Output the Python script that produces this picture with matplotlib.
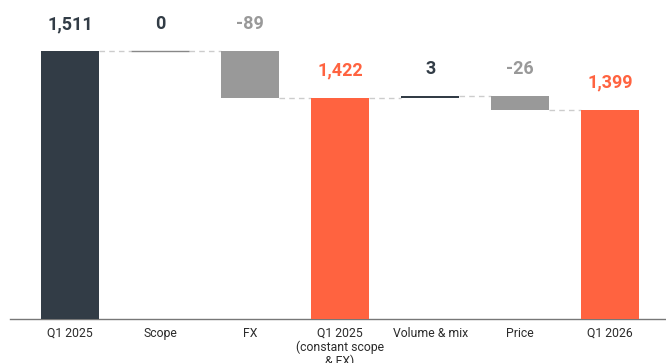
import matplotlib
matplotlib.use("Agg")
import matplotlib.pyplot as plt

# Waterfall bridge: Q1 2025 -> Q1 2026
categories = ["Q1 2025", "Scope", "FX", "Q1 2025\n(constant scope\n& FX)",
              "Volume & mix", "Price", "Q1 2026"]
values = [1511, 0, -89, 1422, 3, -26, 1399]
kinds = ["start", "delta", "delta", "total", "delta", "delta", "total"]
labels = ["1,511", "0", "-89", "1,422", "3", "-26", "1,399"]

DARK = "#323c46"
ORANGE = "#ff6340"
GREY = "#999999"
AXIS_MIN = 1000

plt.rcParams["font.family"] = ["Roboto", "DejaVu Sans"]

fig = plt.figure(figsize=(6.66, 3.63), dpi=100)
ax = fig.add_axes([10 / 666, 44 / 363, 656 / 666, 319 / 363])

bar_w = 0.64
running = 0.0
segments = []
for i, (v, k) in enumerate(zip(values, kinds)):
    if k in ("start", "total"):
        bottom, height = AXIS_MIN, v - AXIS_MIN
        color = DARK if k == "start" else ORANGE
        lab_color = color
        running = v
        level = v
        top = v
    else:
        start = running
        end = running + v
        bottom, height = min(start, end), abs(v)
        color = DARK if v >= 0 else GREY
        lab_color = DARK if v >= 0 else GREY
        running = end
        level = end
        top = max(start, end)
    if height == 0:
        ax.plot([i - bar_w / 2, i + bar_w / 2], [bottom, bottom],
                color="#888888", lw=1.0, solid_capstyle="butt", zorder=3)
    else:
        draw_h = max(height, 2.5)
        ax.bar(i, draw_h, bottom=bottom, width=bar_w, color=color,
               edgecolor="none", zorder=3)
    segments.append((i, level))
    ax.annotate(labels[i], xy=(i, top), xytext=(0, 19.5), textcoords="offset points",
                ha="center", va="center", fontsize=13, fontweight="bold",
                color=lab_color)

# dashed connectors between consecutive bars
for (i, level) in segments[:-1]:
    ax.plot([i + bar_w / 2, i + 1 - bar_w / 2], [level, level],
            color="#cccccc", lw=1.0, ls=(0, (4, 3)), zorder=2)

ax.set_xlim(-0.667, 6.62)
ax.set_ylim(AXIS_MIN, AXIS_MIN + 319 / 0.524)
ax.set_xticks(range(len(categories)))
ax.set_xticklabels(categories, fontsize=8.8, color="#2b2b2b", linespacing=1.05)
ax.tick_params(axis="x", length=0, pad=5.5)
ax.set_yticks([])
for s in ("top", "right", "left"):
    ax.spines[s].set_visible(False)
ax.spines["bottom"].set_color("#777777")
ax.spines["bottom"].set_linewidth(1.0)

fig.savefig("out.png", dpi=100)
